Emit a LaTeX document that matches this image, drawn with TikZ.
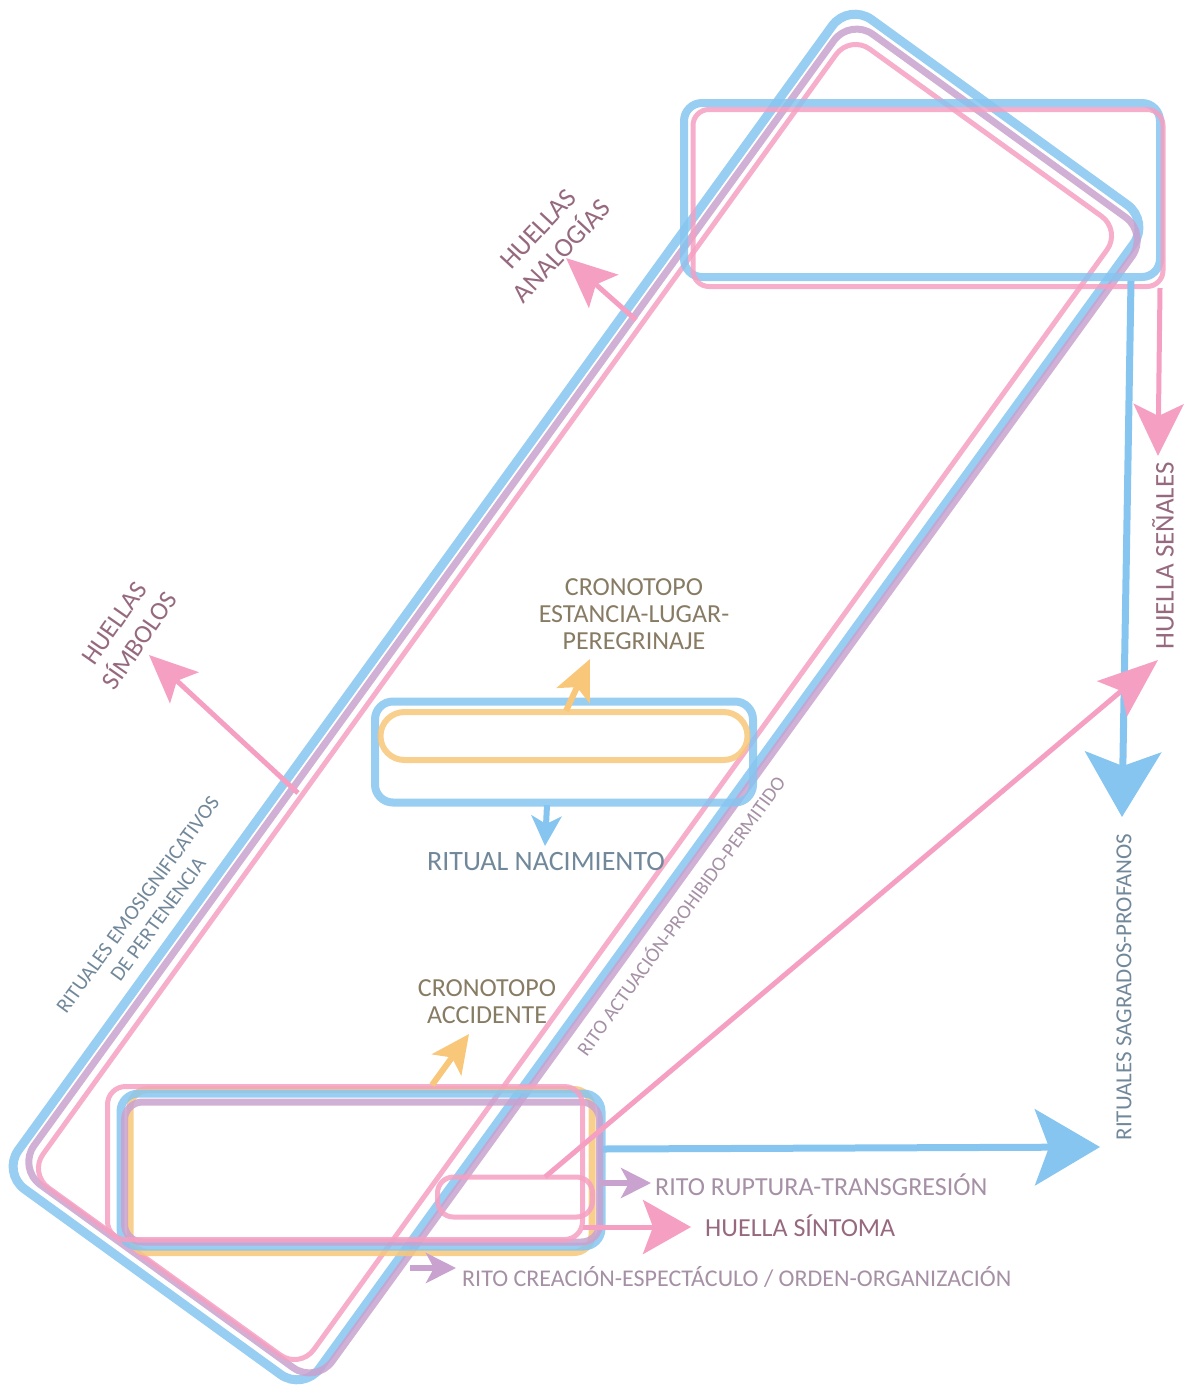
\documentclass[tikz,border=0pt]{standalone}
\usepackage{fontspec}
\setmainfont{Carlito}
\usetikzlibrary{arrows.meta}

\definecolor{cblue}{HTML}{86C5F0}
\definecolor{cpink}{HTML}{F5A0C2}
\definecolor{cpurple}{HTML}{C9A2CF}
\definecolor{corange}{HTML}{F8C77A}
\definecolor{tslate}{HTML}{71889A}
\definecolor{tbrown}{HTML}{877B63}
\definecolor{tmauve}{HTML}{96697F}
\definecolor{tlilac}{HTML}{A590A6}

\tikzset{
	box/.style={inner sep=0pt, outer sep=0pt, draw opacity=.85},
	band/.style={box, rounded corners=28pt},
	lbl/.style={inner sep=0pt, align=center, font=\fontsize{26}{27}\selectfont},
	bigtip/.style={-{Stealth[length=65pt,width=76pt,inset=14pt]}},
	midtip/.style={-{Stealth[length=52pt,width=50pt,inset=12pt]}},
	smalltip/.style={-{Stealth[length=30pt,width=30pt,inset=8pt]}}
}

\begin{document}
\begin{tikzpicture}[x=1pt,y=-1pt]
	\useasboundingbox (0,0) rectangle (1185,1385);

	% big tilted bands
	\node[band, draw=cblue, line width=9pt, minimum width=1444pt, minimum height=372pt, rotate=54.1] (bandblue) at (576,697) {};
	\node[band, draw=cpurple, line width=7pt, minimum width=1420pt, minimum height=368pt, rotate=54.1] (bandpurple) at (583,701) {};
	\node[band, draw=cpink, line width=5pt, minimum width=1404pt, minimum height=334pt, rotate=54.2, rounded corners=24pt] (bandpink) at (575,702) {};

	% top right
	\node[box, draw=cblue, line width=8pt, rounded corners=18pt, minimum width=476pt, minimum height=174pt] (topblue) at (922,190) {};
	\node[box, draw=cpink, line width=5pt, rounded corners=16pt, minimum width=470pt, minimum height=177pt] (toppink) at (928,198) {};

	% middle
	\node[box, draw=cblue, line width=8pt, rounded corners=18pt, minimum width=378pt, minimum height=101pt] (midblue) at (564,752) {};
	\node[box, draw=corange, line width=6pt, rounded corners=24pt, minimum width=367pt, minimum height=48pt] (midorange) at (564,736) {};

	% bottom left
	\node[box, draw=corange, line width=7pt, rounded corners=18pt, minimum width=462pt, minimum height=163pt] (loworange) at (361,1171) {};
	\node[box, draw=cblue, line width=8pt, rounded corners=18pt, minimum width=481pt, minimum height=153pt] (lowblue) at (361,1170) {};
	\node[box, draw=cpurple, line width=7pt, rounded corners=18pt, minimum width=475pt, minimum height=140pt] (lowpurple) at (362,1172) {};
	\node[box, draw=cpink, line width=5pt, rounded corners=18pt, minimum width=475pt, minimum height=153pt] (lowpink) at (345,1163) {};
	\node[box, draw=cpink, line width=5pt, rounded corners=16pt, minimum width=155pt, minimum height=40pt] (smallpink) at (515,1197) {};

	% labels
	\node[lbl, text=tmauve, rotate=47, font=\fontsize{27}{32}\selectfont] (analog) at (550,240) {HUELLAS\\ANALOGÍAS};
	\node[lbl, text=tmauve, rotate=55, font=\fontsize{26}{31}\selectfont] (simb) at (127,632) {HUELLAS\\SÍMBOLOS};
	\node[lbl, text=tslate, rotate=54, font=\fontsize{21}{25}\selectfont] (emosig) at (148,912) {RITUALES EMOSIGNIFICATIVOS\\DE PERTENENCIA};
	\node[lbl, text=tlilac, rotate=54, font=\fontsize{20}{24}\selectfont] (actua) at (680,915) {RITO ACTUACIÓN-PROHIBIDO-PERMITIDO};
	\node[lbl, text=tbrown] (estancia) at (634,614) {CRONOTOPO\\ESTANCIA-LUGAR-\\PEREGRINAJE};
	\node[lbl, text=tbrown] (accid) at (487,1002) {CRONOTOPO\\ACCIDENTE};
	\node[lbl, text=tslate, font=\fontsize{28}{30}\selectfont] (nacim) at (546,862) {RITUAL NACIMIENTO};
	\node[lbl, text=tmauve, rotate=90, font=\fontsize{27}{30}\selectfont] (senal) at (1163,556) {HUELLA SEÑALES};
	\node[lbl, text=tslate, rotate=90, font=\fontsize{23}{26}\selectfont] (sagrad) at (1124,987) {RITUALES SAGRADOS-PROFANOS};
	\node[lbl, text=tlilac, anchor=west] (ruptura) at (655,1185) {RITO RUPTURA-TRANSGRESIÓN};
	\node[lbl, text=tmauve, anchor=west] (sintoma) at (705,1226) {HUELLA SÍNTOMA};
	\node[lbl, text=tlilac, anchor=west, font=\fontsize{24}{26}\selectfont] (creacion) at (462,1277) {RITO CREACIÓN-ESPECTÁCULO / ORDEN-ORGANIZACIÓN};

	% arrow ends
	\coordinate (bs1) at (1131,281);  \coordinate (bt1) at (1122,817);
	\coordinate (ps1) at (1160,288);  \coordinate (pt1) at (1158,456);
	\coordinate (ps2) at (545,1177);  \coordinate (pt2) at (1158,660);
	\coordinate (bs2) at (603,1149);  \coordinate (bt2) at (1100,1147);
	\coordinate (us1) at (600,1183);  \coordinate (ut1) at (651,1183);
	\coordinate (ps3) at (583,1227);  \coordinate (pt3) at (691,1227);
	\coordinate (us2) at (410,1268);  \coordinate (ut2) at (456,1268);
	\coordinate (os1) at (432,1085);  \coordinate (ot1) at (469,1034);
	\coordinate (os2) at (566,711);   \coordinate (ot2) at (590,659);
	\coordinate (bs3) at (547,805);   \coordinate (bt3) at (545,846);
	\coordinate (ps4) at (298,793);   \coordinate (pt4) at (149,655);
	\coordinate (ps5) at (636,320);   \coordinate (pt5) at (566,258);

	% arrows
	\draw[bigtip, cblue, line width=7pt] (bs1) -- (bt1);
	\draw[bigtip, cblue, line width=7pt] (bs2) -- (bt2);
	\draw[midtip, cpink, line width=5pt] (ps1) -- (pt1);
	\draw[cpink, line width=5pt, -{Stealth[length=60pt,width=46pt,inset=12pt]}] (ps2) -- (pt2);
	\draw[cpink, line width=5pt, -{Stealth[length=48pt,width=54pt,inset=10pt]}] (ps3) -- (pt3);
	\draw[cpink, line width=5pt, -{Stealth[length=48pt,width=42pt,inset=10pt]}] (ps4) -- (pt4);
	\draw[cpink, line width=5pt, -{Stealth[length=50pt,width=44pt,inset=10pt]}] (ps5) -- (pt5);
	\draw[smalltip, cpurple, line width=6pt] (us1) -- (ut1);
	\draw[smalltip, cpurple, line width=6pt] (us2) -- (ut2);
	\draw[corange, line width=6pt, -{Stealth[length=38pt,width=36pt,inset=9pt]}] (os1) -- (ot1);
	\draw[corange, line width=6pt, -{Stealth[length=40pt,width=36pt,inset=9pt]}] (os2) -- (ot2);
	\draw[smalltip, cblue, line width=6pt] (bs3) -- (bt3);
\end{tikzpicture}
\end{document}
